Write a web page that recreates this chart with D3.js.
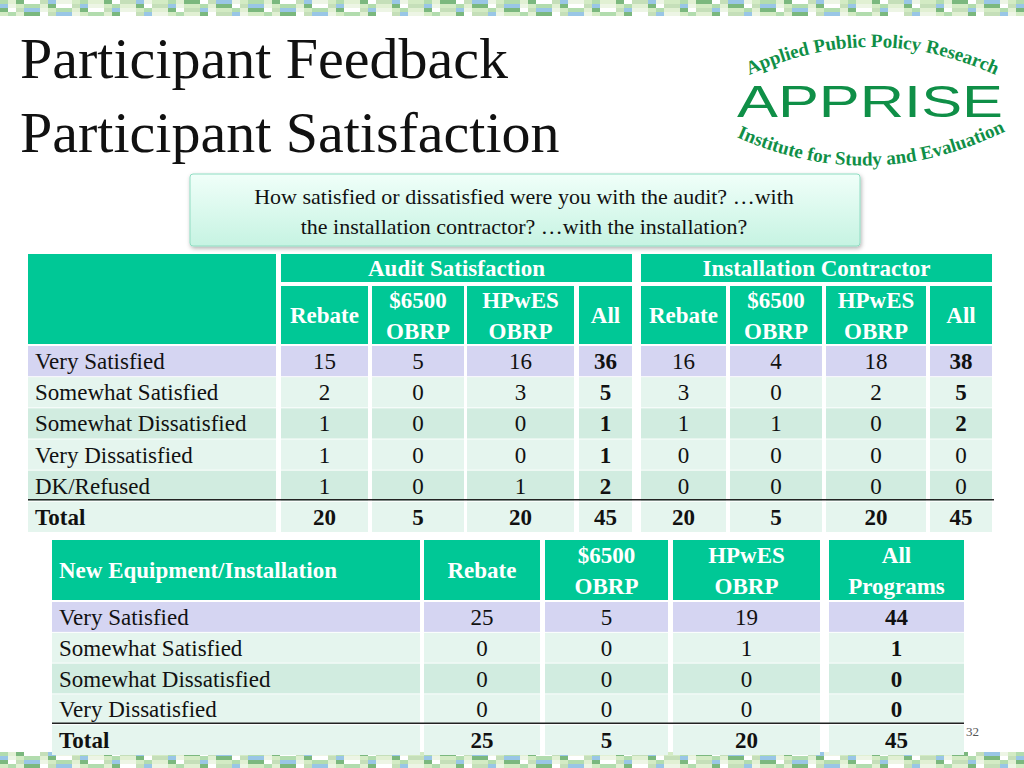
<!DOCTYPE html>
<html><head><meta charset="utf-8">
<script src="https://cdn.jsdelivr.net/npm/d3@7"></script>
<style>body{margin:0;background:#fff}svg{display:block}</style>
</head><body><div id="chart"></div>
<script>
// data
const ratingRows = ["Very Satisfied", "Somewhat Satisfied", "Somewhat Dissatisfied", "Very Dissatisfied", "DK/Refused"];
const programCols = ["Rebate", "$6500\nOBRP", "HPwES\nOBRP", "All"];
const auditValues = [[15, 5, 16, 36], [2, 0, 3, 5], [1, 0, 0, 1], [1, 0, 0, 1], [1, 0, 1, 2]];
const auditTotal = [20, 5, 20, 45];
const contractorValues = [[16, 4, 18, 38], [3, 0, 2, 5], [1, 1, 0, 2], [0, 0, 0, 0], [0, 0, 0, 0]];
const contractorTotal = [20, 5, 20, 45];
const equipRows = ["Very Satisfied", "Somewhat Satisfied", "Somewhat Dissatisfied", "Very Dissatisfied"];
const equipCols = ["Rebate", "$6500\nOBRP", "HPwES\nOBRP", "All\nPrograms"];
const equipValues = [[25, 5, 19, 44], [0, 0, 1, 1], [0, 0, 0, 0], [0, 0, 0, 0]];
const equipTotal = [25, 5, 20, 45];

const W = 1024, H = 768;
const teal = "#00c896", lav = "#d5d5f2", rowA = "#e5f5ee", rowB = "#d1ece0";
const serif = "'Liberation Serif','DejaVu Serif',serif";
const svg = d3.select("#chart").append("svg").attr("width", W).attr("height", H);

// decorative mosaic strips
const pal = ["#9fd39a", "#c8e6b5", "#e8f3de", "#7fb8e0", "#b6d7a8", "#ffffff", "#5aa65e", "#d9ecc8"];
[[0, 16], [752, 16]].forEach(([y0, h]) => {
  for (let x = 0, i = 0; x < W; x += 8, i++) {
    for (let j = 0; j < h / 4; j++) {
      svg.append("rect").attr("x", x).attr("y", y0 + j * 4).attr("width", 8).attr("height", 4)
        .attr("fill", pal[(i * 7 + j * 3 + (i >> 2)) % pal.length]).attr("opacity", 0.8);
    }
  }
});

// title
["Participant Feedback", "Participant Satisfaction"].forEach((t, i) =>
  svg.append("text").attr("x", 20).attr("y", 78 + i * 74).attr("font-family", serif)
    .attr("font-size", 58).attr("fill", "#111").text(t));

// logo
const green = "#0f8f47";
const defs = svg.append("defs");
defs.append("path").attr("id", "arcTop").attr("d", "M735,82 Q872,12 1010,82");
defs.append("path").attr("id", "arcBot").attr("d", "M730,134 Q870,200 1012,128");
svg.append("text").attr("font-family", serif).attr("font-weight", "bold").attr("font-size", 19).attr("fill", green)
  .append("textPath").attr("href", "#arcTop").attr("startOffset", "50%").attr("text-anchor", "middle").text("Applied Public Policy Research");
svg.append("text").attr("font-family", serif).attr("font-weight", "bold").attr("font-size", 19).attr("fill", green)
  .append("textPath").attr("href", "#arcBot").attr("startOffset", "50%").attr("text-anchor", "middle").text("Institute for Study and Evaluation");
svg.append("text").attr("x", 737).attr("y", 117).attr("font-family", "'Liberation Sans',Arial,sans-serif")
  .attr("font-size", 44).attr("fill", green).attr("textLength", 266).attr("lengthAdjust", "spacingAndGlyphs").text("APPRISE");

// callout
const sh = defs.append("filter").attr("id", "sh").attr("x", "-5%").attr("y", "-10%").attr("width", "110%").attr("height", "130%");
sh.append("feDropShadow").attr("dx", 1).attr("dy", 2).attr("stdDeviation", 2).attr("flood-opacity", 0.3);
const gr = defs.append("linearGradient").attr("id", "cg").attr("x1", 0).attr("y1", 0).attr("x2", 0).attr("y2", 1);
gr.append("stop").attr("offset", "0%").attr("stop-color", "#f0fff9");
gr.append("stop").attr("offset", "100%").attr("stop-color", "#c6f3e2");
svg.append("rect").attr("x", 190).attr("y", 174).attr("width", 670).attr("height", 72).attr("rx", 3)
  .attr("fill", "url(#cg)").attr("stroke", "#8fdcc2").attr("filter", "url(#sh)");
["How satisfied or dissatisfied were you with the audit? \u2026with", "the installation contractor? \u2026with the installation?"]
  .forEach((t, i) => svg.append("text").attr("x", 524).attr("y", 204 + i * 30).attr("text-anchor", "middle")
    .attr("font-family", serif).attr("font-size", 22).attr("fill", "#111").text(t));

function cell(x0, x1, y0, y1, fill, txt, opts = {}) {
  svg.append("rect").attr("x", x0).attr("y", y0).attr("width", x1 - x0).attr("height", y1 - y0).attr("fill", fill);
  if (txt === undefined || txt === "") return;
  const lines = String(txt).split("\n");
  const cx = opts.left ? x0 + 7 : (x0 + x1) / 2;
  const cy = (y0 + y1) / 2;
  lines.forEach((l, i) => svg.append("text").attr("x", cx).attr("y", cy + (i - (lines.length - 1) / 2) * 31 + 8)
    .attr("text-anchor", opts.left ? "start" : "middle").attr("font-family", serif).attr("font-size", 23)
    .attr("font-weight", opts.bold ? "bold" : "normal").attr("fill", opts.color || "#111").text(l));
}

// table 1
const rowFill = i => i === 0 ? lav : (i % 2 ? rowA : rowB);
const y1 = d3.scaleBand().domain(d3.range(6)).range([346, 532]).paddingInner(0.03);
const auditX = [[281, 368], [372, 464], [467, 574], [579, 632]];
const contrX = [[641, 726], [730, 822], [826, 926], [930, 992]];
cell(28, 276, 254, 344, teal);
cell(281, 632, 254, 282, teal, "Audit Satisfaction", { bold: true, color: "#fff" });
cell(641, 992, 254, 282, teal, "Installation Contractor", { bold: true, color: "#fff" });
[auditX, contrX].forEach(xs => xs.forEach((x, j) =>
  cell(x[0], x[1], 286, 344, teal, programCols[j], { bold: true, color: "#fff" })));
ratingRows.forEach((r, i) => {
  const a = y1(i), b = a + y1.bandwidth();
  cell(28, 276, a, b, rowFill(i), r, { left: true });
  auditValues[i].forEach((v, j) => cell(auditX[j][0], auditX[j][1], a, b, rowFill(i), v, { bold: j === 3 }));
  contractorValues[i].forEach((v, j) => cell(contrX[j][0], contrX[j][1], a, b, rowFill(i), v, { bold: j === 3 && v > 0 }));
});
{
  const a = y1(5), b = a + y1.bandwidth();
  cell(28, 276, a, b, rowA, "Total", { left: true, bold: true });
  auditTotal.forEach((v, j) => cell(auditX[j][0], auditX[j][1], a, b, rowA, v, { bold: true }));
  contractorTotal.forEach((v, j) => cell(contrX[j][0], contrX[j][1], a, b, rowA, v, { bold: true }));
  svg.append("line").attr("x1", 28).attr("x2", 994).attr("y1", a - 2).attr("y2", a - 2).attr("stroke", "#222").attr("stroke-width", 1.5);
}

// table 2
const eqX = [[424, 540], [545, 668], [673, 820], [829, 964]];
const y2 = d3.scaleBand().domain(d3.range(5)).range([602, 755]).paddingInner(0.03);
cell(52, 420, 540, 600, teal, "New Equipment/Installation", { left: true, bold: true, color: "#fff" });
eqX.forEach((x, j) => cell(x[0], x[1], 540, 600, teal, equipCols[j], { bold: true, color: "#fff" }));
equipRows.forEach((r, i) => {
  const a = y2(i), b = a + y2.bandwidth();
  cell(52, 420, a, b, rowFill(i), r, { left: true });
  equipValues[i].forEach((v, j) => cell(eqX[j][0], eqX[j][1], a, b, rowFill(i), v, { bold: j === 3 }));
});
{
  const a = y2(4), b = a + y2.bandwidth();
  cell(52, 420, a, b, rowA, "Total", { left: true, bold: true });
  equipTotal.forEach((v, j) => cell(eqX[j][0], eqX[j][1], a, b, rowA, v, { bold: true }));
  svg.append("line").attr("x1", 52).attr("x2", 964).attr("y1", a - 2).attr("y2", a - 2).attr("stroke", "#222").attr("stroke-width", 1.5);
}
svg.append("text").attr("x", 966).attr("y", 736).attr("font-family", serif).attr("font-size", 13).attr("fill", "#555").text("32");
</script></body></html>
